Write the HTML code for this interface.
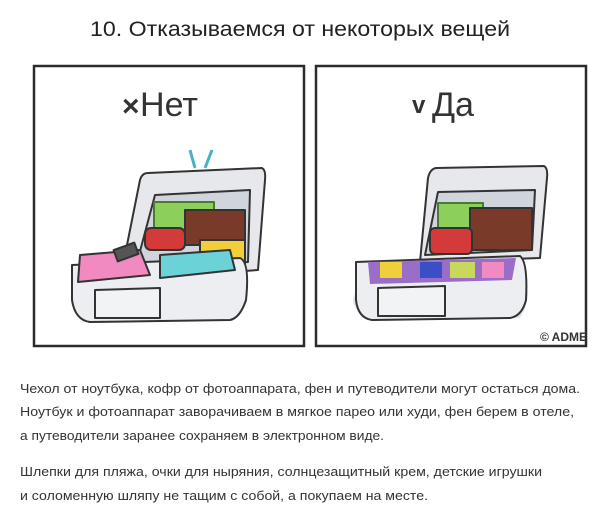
<!DOCTYPE html>
<html><head><meta charset="utf-8"><style>
html,body{margin:0;padding:0;background:#fff;width:600px;height:511px;overflow:hidden}
svg{display:block}
text{font-family:"Liberation Sans","DejaVu Sans",sans-serif}
</style></head><body>
<svg width="600" height="511" viewBox="0 0 600 511" xmlns="http://www.w3.org/2000/svg">
<text x="300" y="36" text-anchor="middle" font-size="21" fill="#222" textLength="420" lengthAdjust="spacingAndGlyphs">10. Отказываемся от некоторых вещей</text>
<rect x="34" y="66" width="270" height="280" fill="#fff" stroke="#2b2b2b" stroke-width="2.5"/>
<rect x="316" y="66" width="270" height="280" fill="#fff" stroke="#2b2b2b" stroke-width="2.5"/>
<text x="122" y="116" font-size="30" fill="#333" font-weight="bold">×</text>
<text x="140" y="116" font-size="34" fill="#333" textLength="58" lengthAdjust="spacingAndGlyphs">Нет</text>
<text x="412" y="113" font-size="24" fill="#333" font-weight="bold">v</text>
<text x="432" y="116" font-size="34" fill="#333" textLength="42" lengthAdjust="spacingAndGlyphs">Да</text>
<g stroke="#333" stroke-width="2" stroke-linejoin="round">
<path d="M72 305 Q66 290 95 282 L240 282 Q248 300 235 318 L80 318 Z" fill="#ccd3e0" stroke="none" opacity=".6"/>
<path d="M148 173 L262 168 Q266 170 265 180 L258 270 L120 280 L140 180 Q142 173 148 173Z" fill="#e6e8ec"/>
<path d="M155 195 L250 190 L248 262 L135 270Z" fill="#d0d4db"/>
<rect x="154" y="202" width="60" height="30" fill="#8ccf5a" stroke="#4a7a30"/>
<rect x="185" y="210" width="60" height="35" fill="#7a3a2a"/>
<rect x="145" y="228" width="40" height="22" rx="6" fill="#d43a3a"/>
<rect x="200" y="240" width="45" height="25" fill="#f0cf3a"/>
<path d="M72 265 L240 258 Q250 262 246 300 Q240 318 230 320 L90 322 Q75 320 72 300Z" fill="#eceef1"/>
<path d="M80 255 L140 250 L150 275 L78 282Z" fill="#f08ac0"/>
<path d="M160 255 L230 250 L235 270 L160 278Z" fill="#6bd3d8"/>
<rect x="115" y="246" width="22" height="12" fill="#555" transform="rotate(-20 126 252)"/>
<path d="M95 290 L160 288 L160 318 L95 318Z" fill="#f2f3f5"/>
<path d="M190 150 L195 168 M212 150 L205 168" stroke="#4ab0c8" stroke-width="3"/>
<path d="M354 305 Q348 290 378 282 L525 282 Q532 300 520 318 L362 318 Z" fill="#ccd3e0" stroke="none" opacity=".6"/>
<path d="M436 168 L544 166 Q548 168 547 178 L540 258 L420 262 L428 178 Q430 169 436 168Z" fill="#e6e8ec"/>
<path d="M438 192 L535 190 L532 250 L425 255Z" fill="#d0d4db"/>
<rect x="438" y="203" width="45" height="30" fill="#8ccf5a" stroke="#4a7a30"/>
<rect x="470" y="208" width="62" height="42" fill="#7a3a2a"/>
<rect x="430" y="228" width="42" height="26" rx="5" fill="#d43a3a"/>
<path d="M356 262 L520 256 Q528 262 526 300 Q522 316 510 318 L372 320 Q358 318 356 300Z" fill="#eceef1"/>
<path d="M368 262 L516 258 L512 280 L370 284Z" fill="#9a6ec8" stroke="none"/>
<rect x="380" y="262" width="22" height="16" fill="#f0cf3a" stroke="none"/>
<rect x="420" y="262" width="22" height="16" fill="#3a4ec8" stroke="none"/>
<rect x="450" y="262" width="25" height="16" fill="#c8d85a" stroke="none"/>
<rect x="482" y="262" width="22" height="16" fill="#f08ac0" stroke="none"/>
<path d="M378 288 L445 286 L445 316 L378 316Z" fill="#f2f3f5"/>
</g>
<text x="587" y="341" font-size="12" font-weight="bold" fill="#333" text-anchor="end">© ADME</text>
<g font-size="13" fill="#333">
<text x="20" y="393" textLength="560" lengthAdjust="spacingAndGlyphs">Чехол от ноутбука, кофр от фотоаппарата, фен и путеводители могут остаться дома.</text>
<text x="20" y="416" textLength="554" lengthAdjust="spacingAndGlyphs">Ноутбук и фотоаппарат заворачиваем в мягкое парео или худи, фен берем в отеле,</text>
<text x="20" y="440" textLength="364" lengthAdjust="spacingAndGlyphs">а путеводители заранее сохраняем в электронном виде.</text>
<text x="20" y="476" textLength="522" lengthAdjust="spacingAndGlyphs">Шлепки для пляжа, очки для ныряния, солнцезащитный крем, детские игрушки</text>
<text x="20" y="500" textLength="408" lengthAdjust="spacingAndGlyphs">и соломенную шляпу не тащим с собой, а покупаем на месте.</text>
</g>
</svg>
</body></html>
